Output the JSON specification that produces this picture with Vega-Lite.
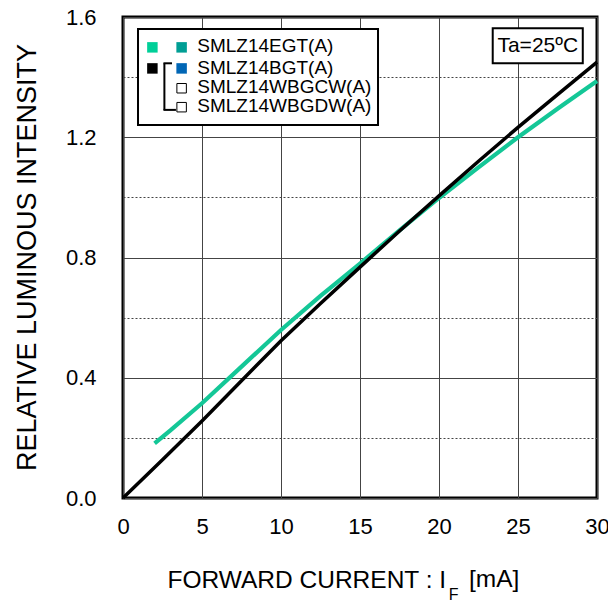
{
  "$schema": "https://vega.github.io/schema/vega-lite/v6.json",
  "width": 474,
  "height": 481,
  "autosize": {"type": "none"},
  "padding": {"left": 123, "top": 17, "right": 11, "bottom": 111},
  "background": "white",
  "config": {
    "font": "Liberation Sans",
    "view": {"stroke": "black", "strokeWidth": 3},
    "axis": {
      "labelFont": "Liberation Sans",
      "titleFont": "Liberation Sans",
      "labelColor": "black",
      "titleColor": "black",
      "titleFontWeight": "normal",
      "domain": false,
      "ticks": false,
      "gridColor": "#444444",
      "gridWidth": 1,
      "gridOpacity": 1
    }
  },
  "datasets": {
    "green": [
      {"I": 2, "L": 0.182}, {"I": 3, "L": 0.225}, {"I": 5, "L": 0.315},
      {"I": 7.5, "L": 0.437}, {"I": 10, "L": 0.559}, {"I": 12.5, "L": 0.672},
      {"I": 15, "L": 0.78}, {"I": 17.5, "L": 0.89}, {"I": 20, "L": 0.998},
      {"I": 22.5, "L": 1.1}, {"I": 25, "L": 1.2}, {"I": 27.5, "L": 1.295},
      {"I": 30, "L": 1.387}
    ],
    "black": [
      {"I": 0, "L": 0}, {"I": 2.5, "L": 0.127}, {"I": 5, "L": 0.256},
      {"I": 7.5, "L": 0.39}, {"I": 10, "L": 0.523}, {"I": 12.5, "L": 0.647},
      {"I": 15, "L": 0.768}, {"I": 17.5, "L": 0.888}, {"I": 20, "L": 1.005},
      {"I": 22.5, "L": 1.12}, {"I": 25, "L": 1.233}, {"I": 27.5, "L": 1.342},
      {"I": 30, "L": 1.45}
    ],
    "one": [{}]
  },
  "layer": [
    {
      "data": {"name": "green"},
      "mark": {"type": "line", "color": "#14C797", "strokeWidth": 4.2, "strokeCap": "butt"},
      "encoding": {
        "x": {
          "field": "I", "type": "quantitative",
          "scale": {"domain": [0, 30], "nice": false},
          "axis": {
            "values": [0, 5, 10, 15, 20, 25, 30],
            "grid": true,
            "labelFontSize": 22,
            "labelPadding": 18,
            "labelDx": -5,
            "labelFlush": false,
            "title": "FORWARD CURRENT : I",
            "titleFontSize": 24.5,
            "titleAnchor": "start",
            "titleAlign": "left",
            "titleBaseline": "alphabetic",
            "titleX": 44,
            "titleY": 89
          }
        },
        "y": {
          "field": "L", "type": "quantitative",
          "scale": {"domain": [0, 1.6], "nice": false},
          "axis": {
            "values": [0, 0.2, 0.4, 0.6, 0.8, 1.0, 1.2, 1.4, 1.6],
            "labelExpr": "round(datum.value * 10) % 4 == 0 ? format(datum.value, '.1f') : ''",
            "grid": true,
            "gridDash": {"condition": {"test": "round(datum.value * 10) % 4 != 0", "value": [2, 2]}, "value": []},
            "labelFontSize": 22,
            "labelPadding": 27,
            "labelFlush": false,
            "title": "RELATIVE LUMINOUS INTENSITY",
            "titleFontSize": 27,
            "titleBaseline": "alphabetic",
            "titleX": -88,
            "titleY": 240
          }
        }
      }
    },
    {
      "data": {"name": "black"},
      "mark": {"type": "line", "color": "black", "strokeWidth": 3.5, "strokeCap": "butt"},
      "encoding": {
        "x": {"field": "I", "type": "quantitative"},
        "y": {"field": "L", "type": "quantitative"}
      }
    },
    {
      "data": {"name": "one"},
      "mark": {"type": "rect", "fill": "white", "stroke": "black", "strokeWidth": 2},
      "encoding": {
        "x": {"datum": 0.95, "type": "quantitative"},
        "x2": {"datum": 16.14},
        "y": {"datum": 1.241, "type": "quantitative"},
        "y2": {"datum": 1.56}
      }
    },
    {
      "data": {"name": "one"},
      "mark": {"type": "rect", "fill": "white", "stroke": "black", "strokeWidth": 2},
      "encoding": {
        "x": {"datum": 23.4, "type": "quantitative"},
        "x2": {"datum": 29.1},
        "y": {"datum": 1.446, "type": "quantitative"},
        "y2": {"datum": 1.5626}
      }
    },
    {
      "data": {"name": "one"},
      "mark": {"type": "text", "text": "Ta=25ºC", "fontSize": 21, "align": "center", "baseline": "middle", "color": "black"},
      "encoding": {
        "x": {"datum": 26.25, "type": "quantitative"},
        "y": {"datum": 1.503, "type": "quantitative"}
      }
    },
    {
      "data": {"name": "one"},
      "mark": {"type": "square", "filled": true, "color": "#00CF98", "size": 110, "opacity": 1},
      "encoding": {
        "x": {"datum": 1.86, "type": "quantitative"},
        "y": {"datum": 1.499, "type": "quantitative"}
      }
    },
    {
      "data": {"name": "one"},
      "mark": {"type": "square", "filled": true, "color": "#009E94", "size": 110, "opacity": 1},
      "encoding": {
        "x": {"datum": 3.71, "type": "quantitative"},
        "y": {"datum": 1.499, "type": "quantitative"}
      }
    },
    {
      "data": {"name": "one"},
      "mark": {"type": "square", "filled": true, "color": "black", "size": 110, "opacity": 1},
      "encoding": {
        "x": {"datum": 1.86, "type": "quantitative"},
        "y": {"datum": 1.429, "type": "quantitative"}
      }
    },
    {
      "data": {"name": "one"},
      "mark": {"type": "square", "filled": true, "color": "#0066B5", "size": 110, "opacity": 1},
      "encoding": {
        "x": {"datum": 3.71, "type": "quantitative"},
        "y": {"datum": 1.429, "type": "quantitative"}
      }
    },
    {
      "data": {"name": "one"},
      "mark": {"type": "square", "filled": true, "fill": "white", "stroke": "black", "strokeWidth": 1, "size": 90, "opacity": 1},
      "encoding": {
        "x": {"datum": 3.71, "type": "quantitative"},
        "y": {"datum": 1.363, "type": "quantitative"}
      }
    },
    {
      "data": {"name": "one"},
      "mark": {"type": "square", "filled": true, "fill": "white", "stroke": "black", "strokeWidth": 1, "size": 90, "opacity": 1},
      "encoding": {
        "x": {"datum": 3.71, "type": "quantitative"},
        "y": {"datum": 1.3, "type": "quantitative"}
      }
    },
    {
      "data": {"name": "one"},
      "mark": {"type": "rule", "color": "black", "strokeWidth": 2},
      "encoding": {
        "x": {"datum": 2.62, "type": "quantitative"},
        "y": {"datum": 1.291, "type": "quantitative"},
        "y2": {"datum": 1.446}
      }
    },
    {
      "data": {"name": "one"},
      "mark": {"type": "rule", "color": "black", "strokeWidth": 2},
      "encoding": {
        "x": {"datum": 2.56, "type": "quantitative"},
        "x2": {"datum": 3.1},
        "y": {"datum": 1.446, "type": "quantitative"}
      }
    },
    {
      "data": {"name": "one"},
      "mark": {"type": "rule", "color": "black", "strokeWidth": 2},
      "encoding": {
        "x": {"datum": 2.56, "type": "quantitative"},
        "x2": {"datum": 3.35},
        "y": {"datum": 1.291, "type": "quantitative"}
      }
    },
    {
      "data": {"name": "one"},
      "mark": {"type": "text", "text": "SMLZ14EGT(A)", "fontSize": 19, "align": "left", "baseline": "middle", "color": "black"},
      "encoding": {
        "x": {"datum": 4.7, "type": "quantitative"},
        "y": {"datum": 1.502, "type": "quantitative"}
      }
    },
    {
      "data": {"name": "one"},
      "mark": {"type": "text", "text": "SMLZ14BGT(A)", "fontSize": 19, "align": "left", "baseline": "middle", "color": "black"},
      "encoding": {
        "x": {"datum": 4.7, "type": "quantitative"},
        "y": {"datum": 1.432, "type": "quantitative"}
      }
    },
    {
      "data": {"name": "one"},
      "mark": {"type": "text", "text": "SMLZ14WBGCW(A)", "fontSize": 19, "align": "left", "baseline": "middle", "color": "black"},
      "encoding": {
        "x": {"datum": 4.7, "type": "quantitative"},
        "y": {"datum": 1.366, "type": "quantitative"}
      }
    },
    {
      "data": {"name": "one"},
      "mark": {"type": "text", "text": "SMLZ14WBGDW(A)", "fontSize": 19, "align": "left", "baseline": "middle", "color": "black"},
      "encoding": {
        "x": {"datum": 4.7, "type": "quantitative"},
        "y": {"datum": 1.303, "type": "quantitative"}
      }
    },
    {
      "data": {"name": "one"},
      "mark": {"type": "text", "text": "F", "fontSize": 16, "align": "left", "baseline": "alphabetic", "color": "black"},
      "encoding": {
        "x": {"datum": 20.62, "type": "quantitative"},
        "y": {"datum": -0.339, "type": "quantitative"}
      }
    },
    {
      "data": {"name": "one"},
      "mark": {"type": "text", "text": "[mA]", "fontSize": 24.5, "align": "left", "baseline": "alphabetic", "color": "black"},
      "encoding": {
        "x": {"datum": 21.9, "type": "quantitative"},
        "y": {"datum": -0.296, "type": "quantitative"}
      }
    }
  ]
}
